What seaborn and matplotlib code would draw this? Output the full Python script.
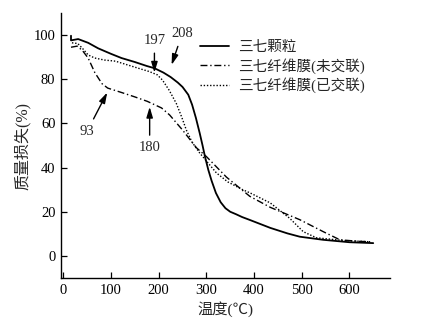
import pandas as pd
import matplotlib
matplotlib.use("Agg")
import matplotlib.pyplot as plt
import seaborn as sns

# 三七颗粒
temp_granule = [16, 16, 31, 52, 73, 100, 122, 150, 175, 191, 210, 225, 240, 250,
                262, 270, 278, 286, 292, 297, 304, 311, 320, 330, 340, 350, 362,
                375, 391, 434, 470, 496, 545, 600, 650]
mass_granule = [99.7, 97.6, 98.2, 96.5, 94.0, 91.5, 89.6, 87.8, 86.0, 85.0, 83.0,
                81.0, 78.5, 76.5, 73.0, 68.5, 62.5, 55.6, 50.0, 45.0, 39.0, 34.0,
                28.5, 24.3, 21.6, 20.0, 18.9, 17.6, 16.3, 12.7, 10.2, 8.7, 7.3,
                6.2, 5.8]

# 三七纤维膜(未交联)
temp_uncross = [16, 29, 40, 52, 66, 81, 93, 122, 150, 176, 206, 223, 250, 279,
                300, 342, 391, 434, 496, 545, 580, 620, 645]
mass_uncross = [94.5, 95.0, 93.0, 89.6, 83.0, 78.0, 76.0, 74.0, 72.0, 70.0, 67.0,
                63.8, 57.0, 49.0, 45.0, 35.7, 27.0, 22.0, 16.4, 11.0, 7.3, 6.6, 6.4]

# 三七纤维膜(已交联)
temp_cross = [18, 30, 40, 52, 66, 86, 109, 157, 180, 197, 208, 222, 237, 248,
              258, 270, 286, 300, 321, 345, 376, 392, 434, 475, 503, 531, 587, 643]
mass_cross = [96.5, 96.2, 94.0, 91.0, 89.6, 88.7, 88.2, 85.0, 83.5, 82.0, 79.6,
              75.0, 69.0, 63.0, 57.0, 51.5, 46.6, 43.0, 37.6, 33.5, 30.0, 28.5,
              24.0, 17.0, 11.0, 8.2, 7.0, 6.4]

series_names = ["三七颗粒", "三七纤维膜(未交联)", "三七纤维膜(已交联)"]
x_ticks = [0, 100, 200, 300, 400, 500, 600]
y_ticks = [0, 20, 40, 60, 80, 100]

# 标注: 文本, 文本位置, 箭头指向
note_texts = ["93", "180", "197", "208"]
note_text_pos = [(50, 56.5), (181, 49), (191, 97.5), (249, 100.5)]
note_arrow_pos = [(92, 74), (181, 67.5), (191, 83), (227, 86.5)]


def main():
    sns.set_theme(style="ticks")
    plt.rcParams["font.family"] = ["Liberation Serif", "Noto Sans CJK SC", "DejaVu Sans"]
    plt.rcParams["font.size"] = 10

    fig = plt.figure(figsize=(4.28, 3.25), dpi=100)
    ax = fig.add_axes([0.1425, 0.1446, 0.911 - 0.1425, 0.96 - 0.1446])

    data = [
        (temp_granule, mass_granule, "-", 1.3),
        (temp_uncross, mass_uncross, (0, (5, 2, 1, 2)), 1.0),
        (temp_cross, mass_cross, (0, (1, 1.3)), 1.0),
    ]
    for (t, m, ls, lw), name in zip(data, series_names):
        df = pd.DataFrame({"温度": t, "质量": m})
        sns.lineplot(data=df, x="温度", y="质量", ax=ax, color="black",
                     linestyle=ls, linewidth=lw, sort=False, estimator=None,
                     label=name)

    for txt, tpos, apos in zip(note_texts, note_text_pos, note_arrow_pos):
        ax.annotate(txt, xy=apos, xytext=tpos, ha="center", va="center",
                    fontsize=10.5,
                    arrowprops=dict(arrowstyle="-|>,head_length=0.6,head_width=0.18",
                                    color="black", lw=1.0, shrinkA=2, shrinkB=0))

    ax.set_xlim(-5, 685)
    ax.set_ylim(-10, 110)
    ax.set_xticks(x_ticks)
    ax.set_yticks(y_ticks)
    ax.tick_params(direction="in", length=4, width=0.9, labelsize=10.5,
                   colors="black", pad=4)
    for side in ["top", "right"]:
        ax.spines[side].set_visible(False)
    for side in ["left", "bottom"]:
        ax.spines[side].set_linewidth(1.0)
        ax.spines[side].set_color("black")

    ax.set_xlabel("温度(℃)", fontsize=11, labelpad=3)
    ax.set_ylabel("质量损失(%)", fontsize=11.5, labelpad=2)

    ax.legend(loc="upper left", bbox_to_anchor=(200 / 428, 1 - 41 / 325),
              bbox_transform=fig.transFigure, frameon=False, borderpad=0,
              borderaxespad=0, handlelength=2.0, handletextpad=0.6,
              labelspacing=0.25, fontsize=10.5)

    fig.savefig("out.png", dpi=100)
    plt.close(fig)


if __name__ == "__main__":
    main()
